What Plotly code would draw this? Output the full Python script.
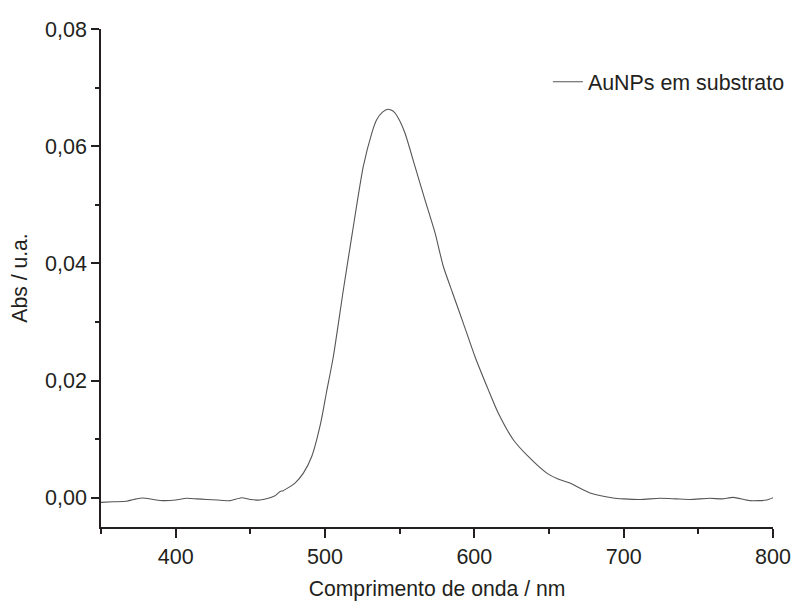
import plotly.graph_objects as go

wavelength = [350, 358, 367, 372, 378, 385, 391.7, 400, 407.4, 414, 420.8, 428, 436.4, 444.2, 450, 456.5, 463.2,
              467, 469.9, 472, 476, 479.9, 485.5, 491.1, 497.1, 501, 505.6, 512.3, 518.3, 525.6, 531.3, 534.6,
              538.5, 542.2, 546, 549.5, 553.6, 560.3, 567, 573.7, 579.2, 585.5, 592.6, 600.4, 609.4, 616, 626.1,
              636.1, 648.5, 656, 664, 677.5, 693, 700, 711, 724.3, 735, 744.4, 757.8, 766, 773.4, 784.6, 795.8, 800]
absorbance = [-0.0008, -0.0007, -0.0006, -0.0003, -0.00005, -0.0003, -0.0005, -0.0004, -0.0001, -0.0002, -0.0003,
              -0.0004, -0.0005, 0.0, -0.0003, -0.0004, 0.0, 0.0004, 0.00107, 0.0012, 0.0018, 0.0025, 0.0042, 0.00704,
              0.01274, 0.018, 0.0241, 0.0355, 0.0452, 0.0565, 0.0622, 0.0645, 0.0658, 0.0663, 0.0659, 0.0646, 0.0622,
              0.0565, 0.0508, 0.0452, 0.0395, 0.0349, 0.0298, 0.0241, 0.0184, 0.01445, 0.0099, 0.00704, 0.0042,
              0.0032, 0.0025, 0.0008, -0.00005, -0.0002, -0.0003, -0.0001, -0.0002, -0.0003, -0.0001, -0.0002,
              0.00005, -0.0005, -0.0004, 0.0]

series_name = "AuNPs em substrato"
x_title = "Comprimento de onda / nm"
y_title = "Abs / u.a."
x_ticks = [400, 500, 600, 700, 800]
y_ticks = [0.00, 0.02, 0.04, 0.06, 0.08]

font_family = "Liberation Sans, Arial, sans-serif"
txt = "#231f20"
axc = "#231f20"

fig = go.Figure()
fig.add_trace(go.Scatter(x=wavelength, y=absorbance, mode="lines", name=series_name,
                         line=dict(color="#555555", width=1.1, shape="spline", smoothing=0.6)))

fig.update_layout(
    width=793, height=601,
    margin=dict(l=101, r=20, t=29, b=74, autoexpand=False),
    paper_bgcolor="white", plot_bgcolor="white",
    separators=",.",
    font=dict(family=font_family, size=21, color=txt),
    showlegend=True,
    legend=dict(x=0.665, y=0.935, xanchor="left", yanchor="top", bgcolor="rgba(0,0,0,0)",
                font=dict(size=21.4, color=txt), borderwidth=0),
)
fig.update_xaxes(
    range=[350, 800], tickvals=x_ticks, ticks="outside", ticklen=9, tickwidth=1.5, tickcolor=axc,
    showline=True, linecolor=axc, linewidth=1.5, showgrid=False, zeroline=False, ticklabeloverflow="allow",
    minor=dict(dtick=50, tick0=350, ticks="outside", ticklen=5, tickwidth=1.5, tickcolor=axc, showgrid=False),
    title=dict(text=x_title, standoff=26, font=dict(size=21.2, color=txt, family=font_family)),
    automargin=False, tickfont=dict(size=21.5, color=txt),
)
fig.update_yaxes(
    range=[-0.005, 0.08], tickvals=y_ticks, tickformat=".2f", ticks="outside", ticklen=8, tickwidth=1.5,
    tickcolor=axc, showline=True, linecolor=axc, linewidth=1.5, showgrid=False, zeroline=False,
    minor=dict(dtick=0.01, tick0=0, ticks="outside", ticklen=4, tickwidth=1.5, tickcolor=axc, showgrid=False),
    title=dict(text=y_title, standoff=12, font=dict(size=21.2, color=txt, family=font_family)),
    automargin=False, tickfont=dict(size=21.5, color=txt),
)

# remove the default 8px page margin so the figure sits at the window's top-left corner
fig.write_html("out.html", config={"displayModeBar": False},
               post_script="document.body.style.margin='0px';")
